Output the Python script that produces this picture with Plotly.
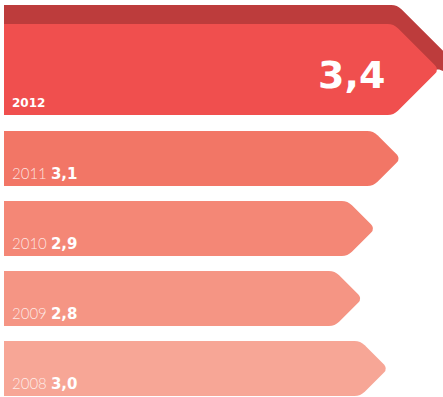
import plotly.graph_objects as go

# ── Data ────────────────────────────────────────────────────────────────────
years  = ["2012", "2011", "2010", "2009", "2008"]
values = [3.4, 3.1, 2.9, 2.8, 3.0]
labels = ["3,4", "3,1", "2,9", "2,8", "3,0"]

# ── Theme ───────────────────────────────────────────────────────────────────
COLORS = ["#F04F4E", "#F27666", "#F48776", "#F59584", "#F7A696"]
DARK   = "#BD3C3C"
FONT   = "DejaVu Sans, Roboto, sans-serif"
THIN   = "Lato, Roboto, sans-serif"

W, H  = 443, 397
X0_PX = 4          # pixel position of value 0
K     = 128.0      # pixels per unit on x


def px(d):
    """pixel length -> x data units"""
    return d / K


def arrow_path(v, top, bot, r=6):
    mid  = (top + bot) / 2
    half = (bot - top) / 2
    s = v - px(half)
    d = r / 2 ** 0.5
    return (
        f"M 0,{top} L {s - px(r)},{top} Q {s},{top} {s + px(d)},{top + d} "
        f"L {v - px(d)},{mid - d} Q {v},{mid} {v - px(d)},{mid + d} "
        f"L {s + px(d)},{bot - d} Q {s},{bot} {s - px(r)},{bot} L 0,{bot} Z"
    )


shapes, annotations = [], []

# top (highlighted) bar with dark extrusion
v = values[0]
top_d, top_l, bot = 5, 24, 115
mid = (top_l + bot) / 2
sd = v - px(42)
r, d = 6, 6 / 2 ** 0.5
shapes.append(dict(
    type="path", xref="x", yref="y", line=dict(width=0), fillcolor=DARK,
    path=(f"M 0,{top_d} L {sd - px(r)},{top_d} Q {sd},{top_d} {sd + px(d)},{top_d + d} "
          f"L {sd + px(80)},{top_d + 80} L {v},{mid} L 0,{mid} Z"),
))
shapes.append(dict(
    type="path", xref="x", yref="y", line=dict(width=0), fillcolor=COLORS[0],
    path=arrow_path(v, top_l, bot),
))
annotations.append(dict(
    x=px(6), y=bot - 12, xref="x", yref="y", xanchor="left", yanchor="middle",
    text=f"<b>{years[0]}</b>", showarrow=False,
    font=dict(family=FONT, size=12, color="white"),
))
annotations.append(dict(
    x=v - px(52), y=75, xref="x", yref="y", xanchor="right", yanchor="middle",
    text=f"<b>{labels[0]}</b>", showarrow=False,
    font=dict(family=FONT, size=38, color="white"),
))

# remaining bars
for i in range(1, len(values)):
    top = 131 + 70 * (i - 1)
    b = top + 55
    shapes.append(dict(
        type="path", xref="x", yref="y", line=dict(width=0), fillcolor=COLORS[i],
        path=arrow_path(values[i], top, b),
    ))
    annotations.append(dict(
        x=px(6), y=b - 13, xref="x", yref="y", xanchor="left", yanchor="middle",
        text=(f"<span style='color:rgba(255,255,255,0.8)'>{years[i]}</span> "
              f"<b><span style='font-family:DejaVu Sans'>{labels[i]}</span></b>"),
        showarrow=False,
        font=dict(family=THIN, size=15, color="white", weight=300),
    ))

fig = go.Figure(go.Scatter(x=[], y=[], hoverinfo="skip", showlegend=False))
fig.update_layout(
    width=W, height=H,
    margin=dict(l=0, r=0, t=0, b=0),
    paper_bgcolor="white", plot_bgcolor="white",
    xaxis=dict(range=[-X0_PX / K, (W - X0_PX) / K], visible=False, fixedrange=True),
    yaxis=dict(range=[H, 0], visible=False, fixedrange=True),
    shapes=shapes,
    annotations=annotations,
    showlegend=False,
)

# page body has a default 8px margin; drop it so the figure sits at 0,0
fig.write_html(
    "out.html",
    config=dict(displayModeBar=False),
    post_script="document.body.style.margin='0';document.body.style.overflow='hidden';",
)
